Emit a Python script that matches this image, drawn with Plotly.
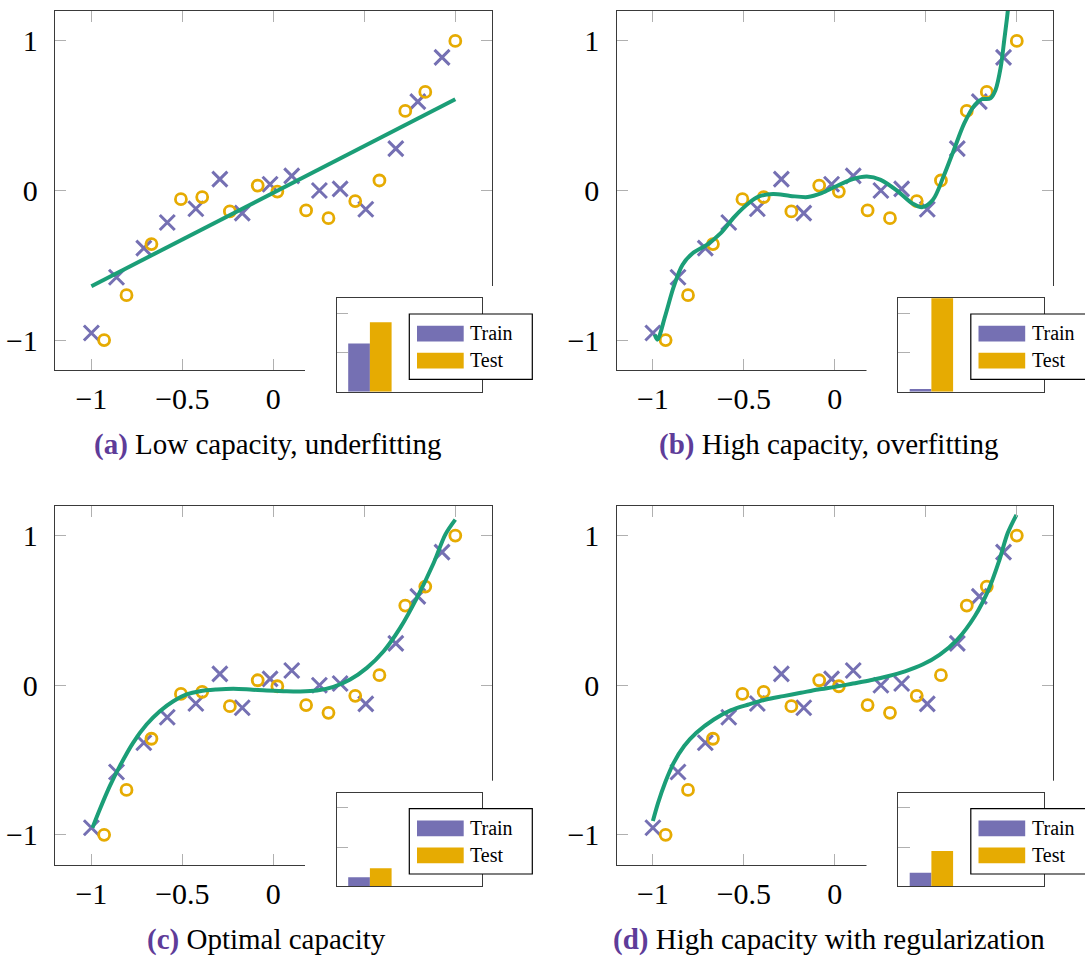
import plotly.graph_objects as go

W, H = 1085, 959

# Noisy samples of a cubic trend (shared by all four panels)
x_train = [-1.0, -0.862, -0.712, -0.583, -0.426, -0.294, -0.171, -0.018,
           0.101, 0.253, 0.367, 0.508, 0.673, 0.794, 0.927]
y_train = [-0.953, -0.58, -0.385, -0.214, -0.122, 0.076, -0.151, 0.042,
           0.098, 0.0, 0.011, -0.125, 0.28, 0.594, 0.89]
x_test = [-0.93, -0.807, -0.67, -0.508, -0.391, -0.239, -0.086, 0.022,
          0.18, 0.303, 0.45, 0.583, 0.725, 0.835, 1.0]
y_test = [-1.0, -0.70, -0.358, -0.058, -0.044, -0.14, 0.033, -0.007,
          -0.133, -0.185, -0.071, 0.067, 0.532, 0.659, 1.0]

# Fitted model curves
fit_a_x = [-1.0, 1.0]
fit_a_y = [-0.64, 0.61]

fit_b_x = [-0.99, -0.975, -0.933, -0.885, -0.837, -0.78, -0.704, -0.627, -0.551,
           -0.474, -0.417, -0.34, -0.245, -0.149, -0.073, 0.004, 0.099, 0.176,
           0.252, 0.348, 0.424, 0.482, 0.539, 0.597, 0.654, 0.711, 0.769, 0.807,
           0.855, 0.883, 0.912, 0.931, 0.95, 0.96]
fit_b_y = [-0.963, -0.997, -0.841, -0.641, -0.496, -0.418, -0.363, -0.285, -0.174,
           -0.085, -0.04, -0.024, -0.036, -0.044, -0.018, 0.027, 0.076, 0.093,
           0.071, -0.007, -0.085, -0.111, -0.062, 0.093, 0.271, 0.449, 0.572, 0.61,
           0.616, 0.672, 0.828, 1.006, 1.195, 1.34]

fit_c_x = [-0.994, -0.954, -0.899, -0.844, -0.771, -0.697, -0.624, -0.55, -0.477,
           -0.404, -0.312, -0.22, -0.128, -0.037, 0.055, 0.147, 0.239, 0.33, 0.422,
           0.514, 0.606, 0.697, 0.789, 0.881, 0.945, 1.0]
fit_c_y = [-0.953, -0.831, -0.675, -0.541, -0.385, -0.263, -0.174, -0.107, -0.062,
           -0.04, -0.029, -0.024, -0.029, -0.036, -0.04, -0.042, -0.036, -0.011,
           0.038, 0.116, 0.227, 0.383, 0.584, 0.817, 1.007, 1.107]

fit_d_x = [-1.0, -0.971, -0.933, -0.885, -0.828, -0.761, -0.665, -0.57, -0.474,
           -0.379, -0.283, -0.187, -0.092, 0.004, 0.099, 0.195, 0.291, 0.386, 0.482,
           0.577, 0.673, 0.769, 0.845, 0.902, 0.95, 0.998]
fit_d_y = [-0.908, -0.785, -0.652, -0.518, -0.407, -0.318, -0.229, -0.167, -0.129,
           -0.096, -0.073, -0.051, -0.029, -0.011, 0.011, 0.033, 0.06, 0.093, 0.138,
           0.205, 0.305, 0.461, 0.639, 0.828, 1.017, 1.139]

fits = [(fit_a_x, fit_a_y), (fit_b_x, fit_b_y), (fit_c_x, fit_c_y), (fit_d_x, fit_d_y)]

# Error bars in the insets
error_labels = ["Train", "Test"]
err_train = [1.23, 0.07, 0.23, 0.35]
err_test = [1.77, 3.0, 0.46, 0.90]

caption_tags = ["(a)", "(b)", "(c)", "(d)"]
caption_texts = ["Low capacity, underfitting", "High capacity, overfitting",
                 "Optimal capacity", "High capacity with regularization"]

PURPLE = "#7570b3"
ORANGE = "#e6ab02"
GREEN = "#1b9e77"
TAG = "#5e3c99"
FRAME = "#3a3a3a"
TICK = "#b0b0b0"
SERIF = "Liberation Serif"

# panel geometry in pixels (left, top)
origins = [(55, 11), (616.5, 11), (55, 505.7), (616.5, 505.7)]
PW, PH = 436.7, 359.0
caption_pos = [(267.5, 444), (829.4, 444), (266.4, 939), (829.0, 939)]


def fx(px):
    return px / W


def fy(py):
    return 1 - py / H


def axkey(kind, n):
    return kind + "axis" + ("" if n == 1 else str(n))


def axref(kind, n):
    return kind + ("" if n == 1 else str(n))


fig = go.Figure()
layout = dict(width=W, height=H, margin=dict(l=0, r=0, t=0, b=0),
              paper_bgcolor="white", plot_bgcolor="white", showlegend=False,
              barmode="overlay", shapes=[], annotations=[])

for i, (L, T) in enumerate(origins):
    m, c, s = i + 1, i + 5, i + 9

    # main scatter panel
    tickfont = dict(family=SERIF, size=30, color="black")
    common = dict(showline=True, linecolor=FRAME, linewidth=1.3, mirror="ticks",
                  ticks="inside", ticklen=11, tickwidth=1.2, tickcolor=TICK,
                  showgrid=False, zeroline=False, tickfont=tickfont,
                  range=[-1.2, 1.2])
    layout[axkey("x", m)] = dict(common, domain=[fx(L), fx(L + PW)], anchor=axref("y", m),
                                 tickvals=[-1, -0.5, 0, 0.5, 1],
                                 ticktext=["\u22121", "\u22120.5", "0", "0.5", "1"],
                                 ticklabelstandoff=2)
    layout[axkey("y", m)] = dict(common, domain=[fy(T + PH), fy(T)], anchor=axref("x", m),
                                 tickvals=[-1, 0, 1], ticktext=["\u22121", "0", "1"],
                                 ticklabelstandoff=10)

    fig.add_trace(go.Scatter(x=x_train, y=y_train, mode="markers",
                             xaxis=axref("x", m), yaxis=axref("y", m),
                             marker=dict(symbol="x-thin", size=15, color=PURPLE,
                                         line=dict(width=3, color=PURPLE))))
    fig.add_trace(go.Scatter(x=x_test, y=y_test, mode="markers",
                             xaxis=axref("x", m), yaxis=axref("y", m),
                             marker=dict(symbol="circle-open", size=11, color=ORANGE,
                                         line=dict(width=2.8, color=ORANGE))))
    fx_, fy_ = fits[i]
    fig.add_trace(go.Scatter(x=fx_, y=fy_, mode="lines",
                             xaxis=axref("x", m), yaxis=axref("y", m),
                             line=dict(color=GREEN, width=4, shape="spline", smoothing=0.9)))

    # white backing behind the inset
    right = min(L + 470, W)
    layout[axkey("x", c)] = dict(visible=False, range=[0, 1],
                                 domain=[fx(L + 250), fx(right)], anchor=axref("y", c))
    layout[axkey("y", c)] = dict(visible=False, range=[0, 1],
                                 domain=[fy(T + 405), fy(T + 275)], anchor=axref("x", c))
    fig.add_trace(go.Scatter(x=[None], y=[None], mode="markers", hoverinfo="skip",
                             xaxis=axref("x", c), yaxis=axref("y", c)))

    # inset bar chart of the errors
    layout[axkey("x", s)] = dict(range=[-1.03, 5.68], domain=[fx(L + 281.7), fx(L + 427.3)],
                                 anchor=axref("y", s), showline=True, mirror=True,
                                 linecolor=FRAME, linewidth=1.3, ticks="",
                                 showticklabels=False, showgrid=False, zeroline=False)
    layout[axkey("y", s)] = dict(range=[0, 2.38], domain=[fy(T + 380.7), fy(T + 287.3)],
                                 anchor=axref("x", s), showline=True, mirror=True,
                                 linecolor=FRAME, linewidth=1.3, ticks="inside",
                                 ticklen=11.5, tickwidth=1.2, tickcolor=TICK,
                                 tickvals=[1, 2], showticklabels=False,
                                 showgrid=False, zeroline=False)
    fig.add_trace(go.Bar(x=[0], y=[err_train[i]], width=1, name=error_labels[0],
                         xaxis=axref("x", s), yaxis=axref("y", s),
                         marker=dict(color=PURPLE, line=dict(width=0))))
    fig.add_trace(go.Bar(x=[1], y=[err_test[i]], width=1, name=error_labels[1],
                         xaxis=axref("x", s), yaxis=axref("y", s),
                         marker=dict(color=ORANGE, line=dict(width=0))))

    # legend box
    layout["shapes"].append(dict(type="rect", xref="paper", yref="paper", layer="above",
                                 x0=fx(L + 354.3), x1=fx(L + 477.3),
                                 y0=fy(T + 368.3), y1=fy(T + 303),
                                 fillcolor="white", line=dict(color="black", width=1.2)))
    for k, (col, yt) in enumerate([(PURPLE, 314.7), (ORANGE, 341.7)]):
        layout["shapes"].append(dict(type="rect", xref="paper", yref="paper", layer="above",
                                     x0=fx(L + 362), x1=fx(L + 408.7),
                                     y0=fy(T + yt + 15.8), y1=fy(T + yt),
                                     fillcolor=col, line=dict(width=0)))
        layout["annotations"].append(dict(text=error_labels[k], xref="paper", yref="paper",
                                          x=fx(L + 413), y=fy(T + yt + 7.2),
                                          xanchor="left", yanchor="middle", showarrow=False,
                                          font=dict(family=SERIF, size=20, color="black")))

    # caption
    cx, cy = caption_pos[i]
    layout["annotations"].append(dict(
        text=f"<b><span style='color:{TAG}'>{caption_tags[i]}</span></b> {caption_texts[i]}",
        xref="paper", yref="paper", x=fx(cx), y=fy(cy), xanchor="center", yanchor="middle",
        showarrow=False, font=dict(family=SERIF, size=29, color="black")))

fig.update_layout(**layout)
fig.write_html("out.html")
